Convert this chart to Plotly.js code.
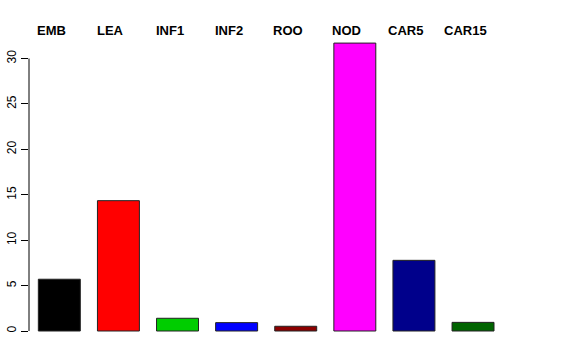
<!DOCTYPE html>
<html>
<head>
<meta charset="utf-8">
<script src="https://cdn.plot.ly/plotly-3.0.1.min.js"></script>
<style>html,body{margin:0;padding:0;background:#fff;}#chart{width:576px;height:360px;}</style>
</head>
<body>
<div id="chart"></div>
<script>
const categories = ["EMB", "LEA", "INF1", "INF2", "ROO", "NOD", "CAR5", "CAR15"];
const values = [5.7, 14.35, 1.4, 0.92, 0.52, 31.7, 7.78, 0.95];
const barColors = ["#000000", "#FF0000", "#00CD00", "#0000FF", "#8B0000", "#FF00FF", "#00008B", "#006400"];
const yTickVals = [0, 5, 10, 15, 20, 25, 30];

const idx = categories.map((c, i) => i);

const trace = {
  type: "bar",
  x: idx,
  y: values,
  width: 0.71,
  marker: { color: barColors, line: { color: "#222222", width: 1 } },
  hoverinfo: "skip"
};

const annotations = categories.map((c, i) => ({
  x: i, xref: "x", y: 1, yref: "paper", yanchor: "middle",
  yshift: 0, xshift: -8,
  text: "<b>" + c + "</b>", showarrow: false,
  font: { family: "Liberation Sans, Arial, sans-serif", size: 13, color: "#000" }
}));

const layout = {
  width: 576, height: 360,
  margin: { l: 29, r: 47, t: 30, b: 20 },
  paper_bgcolor: "#fff", plot_bgcolor: "#fff",
  showlegend: false,
  xaxis: {
    range: [-0.513, 7.947], showgrid: false, zeroline: false, showline: false,
    showticklabels: false, ticks: ""
  },
  yaxis: {
    range: [-0.991, 33.14], showgrid: false, zeroline: false, showline: false,
    tickmode: "array", tickvals: yTickVals, ticktext: yTickVals.map(String),
    ticks: "outside", ticklen: 7, tickcolor: "#000", tickwidth: 1,
    tickangle: -90,
    tickfont: { family: "Liberation Sans, Arial, sans-serif", size: 12, color: "#000" }
  },
  shapes: [{
    type: "line", xref: "paper", x0: 0, x1: 0, yref: "y", y0: 0, y1: 30,
    line: { color: "#000", width: 1 }
  }],
  annotations: annotations
};

Plotly.newPlot("chart", [trace], layout, { staticPlot: true, displayModeBar: false });
</script>
</body>
</html>
